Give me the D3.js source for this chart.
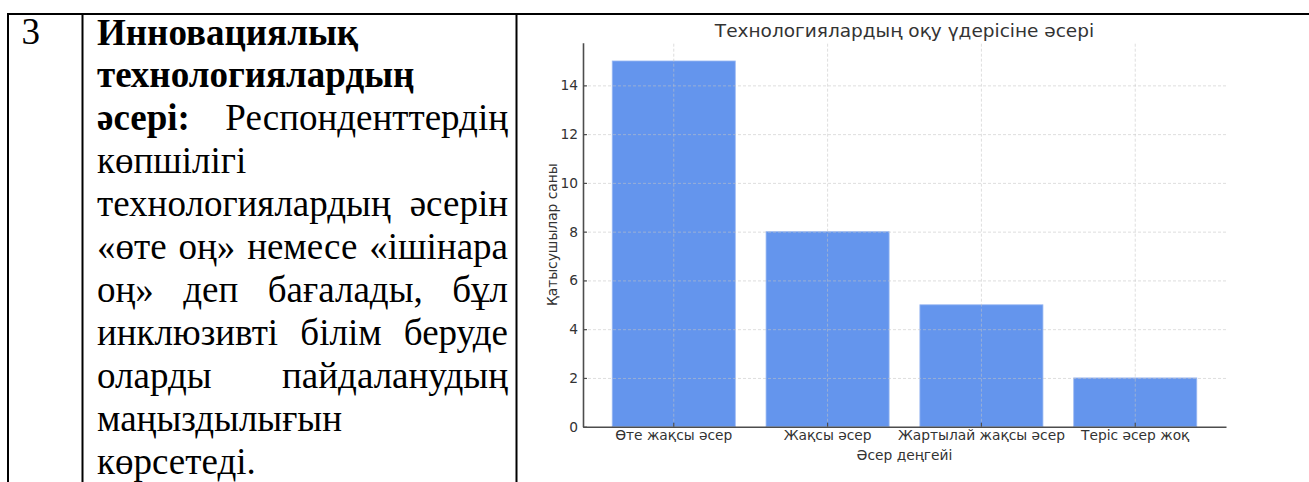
<!DOCTYPE html>
<html>
<head>
<meta charset="utf-8">
<script src="https://cdn.jsdelivr.net/npm/d3@7"></script>
<style>
  html, body { margin: 0; padding: 0; background: #fff; }
  svg { display: block; }
</style>
</head>
<body>
<svg id="svg" width="1309" height="482"></svg>
<script>
// chart data
const categories = ["Өте жақсы әсер", "Жақсы әсер", "Жартылай жақсы әсер", "Теріс әсер жоқ"];
const counts = [15, 8, 5, 2];
const yTicks = [0, 2, 4, 6, 8, 10, 12, 14];
const chartTitle = "Технологиялардың оқу үдерісіне әсері";
const xTitle = "Әсер деңгейі";
const yTitle = "Қатысушылар саны";

// table text
const rowNumber = "3";
const textLines = [
    "Инновациялық",
    "технологиялардың",
    "әсері: Респонденттердің",
    "көпшілігі",
    "технологиялардың әсерін",
    "«өте оң» немесе «ішінара",
    "оң» деп бағалады, бұл",
    "инклюзивті білім беруде",
    "оларды пайдаланудың",
    "маңыздылығын",
    "көрсетеді."
];
const boldWordCount = 3;
const justified = [false, false, true, false, true, true, true, true, true, false, false];

const svg = d3.select("#svg");
const serifFont = "'Liberation Serif', 'Times New Roman', 'DejaVu Serif', serif";
const serifSize = 37;

// ---- table frame ----
const frame = svg.append("g").attr("stroke", "#000").attr("stroke-width", 2);
frame.append("line").attr("x1", 7).attr("x2", 1309).attr("y1", 14).attr("y2", 14);
[8, 82.5, 516.5].forEach(x =>
    frame.append("line").attr("x1", x).attr("x2", x).attr("y1", 13).attr("y2", 482));

svg.append("text")
    .attr("x", 21.5).attr("y", 44)
    .attr("font-family", serifFont)
    .attr("font-size", serifSize)
    .text(rowNumber);

// ---- text cell ----
const textLeft = 97, textRight = 508, firstBase = 44.5, lineStep = 42.9;
const cell = svg.append("g");
let wordIndex = 0;
textLines.forEach((line, i) => {
    const words = line.split(" ");
    const nodes = words.map(w => {
        const t = cell.append("text")
            .attr("y", firstBase + i * lineStep)
            .attr("font-family", serifFont)
            .attr("font-size", serifSize)
            .attr("font-weight", wordIndex < boldWordCount ? "bold" : "normal")
            .text(w);
        wordIndex++;
        return t;
    });
    const widths = nodes.map(n => n.node().getComputedTextLength());
    const total = d3.sum(widths);
    const gap = justified[i] && words.length > 1
        ? (textRight - textLeft - total) / (words.length - 1)
        : serifSize * 0.25;
    let x = textLeft;
    nodes.forEach((n, k) => {
        n.attr("x", x);
        x += widths[k] + gap;
    });
});

// ---- chart ----
const plotLeft = 583, plotRight = 1226, plotTop = 42.7, plotBottom = 426.7;
const tickFont = 13.8;

const x = d3.scaleBand()
    .domain(categories)
    .range([plotLeft, plotRight])
    .paddingInner(0.2)
    .paddingOuter(0.19);

const y = d3.scaleLinear()
    .domain([0, 15.75])
    .range([plotBottom, plotTop]);

const chart = svg.append("g")
    .attr("font-family", "DejaVu Sans")
    .attr("fill", "#333");

chart.selectAll("rect.bar")
    .data(counts)
    .enter()
    .append("rect")
    .attr("class", "bar")
    .attr("x", (d, i) => x(categories[i]))
    .attr("y", d => y(d))
    .attr("width", x.bandwidth())
    .attr("height", d => y(0) - y(d))
    .attr("fill", "#6495ED")
    .attr("stroke", "#9bb9f2")
    .attr("stroke-width", 0.8);

// grid on top of bars
const gridY = chart.append("g")
    .attr("transform", `translate(${plotLeft},0)`)
    .call(d3.axisLeft(y).tickValues(yTicks.slice(1)).tickSize(-(plotRight - plotLeft)).tickFormat(""));
const gridX = chart.append("g")
    .attr("transform", `translate(0,${plotBottom})`)
    .call(d3.axisBottom(x).tickSize(-(plotBottom - plotTop)).tickFormat(""));
[gridY, gridX].forEach(g => {
    g.select(".domain").remove();
    g.selectAll("line")
        .attr("stroke", "#c4c4c4")
        .attr("stroke-opacity", 0.7)
        .attr("stroke-width", 0.8)
        .attr("stroke-dasharray", "3,2");
});

const yAxis = chart.append("g")
    .attr("transform", `translate(${plotLeft},0)`)
    .call(d3.axisLeft(y).tickValues(yTicks).tickSizeInner(-4).tickSizeOuter(0).tickPadding(5));
const xAxis = chart.append("g")
    .attr("transform", `translate(0,${plotBottom})`)
    .call(d3.axisBottom(x).tickSizeInner(-4).tickSizeOuter(0).tickPadding(4));
[yAxis, xAxis].forEach(g => {
    g.attr("font-family", "DejaVu Sans").attr("font-size", tickFont);
    g.select(".domain").attr("stroke", "#4d4d4d").attr("stroke-width", 1.6);
    g.selectAll(".tick line").attr("stroke", "#4d4d4d").attr("stroke-width", 1.2);
    g.selectAll(".tick text").attr("fill", "#333");
});

chart.append("text")
    .attr("x", (plotLeft + plotRight) / 2).attr("y", 36.5)
    .attr("text-anchor", "middle")
    .attr("font-size", 18.5)
    .text(chartTitle);

chart.append("text")
    .attr("x", (plotLeft + plotRight) / 2).attr("y", 459.5)
    .attr("text-anchor", "middle")
    .attr("font-size", tickFont)
    .text(xTitle);

chart.append("text")
    .attr("transform", `translate(556.5,${(plotTop + plotBottom) / 2}) rotate(-90)`)
    .attr("text-anchor", "middle")
    .attr("font-size", tickFont)
    .text(yTitle);
</script>
</body>
</html>
